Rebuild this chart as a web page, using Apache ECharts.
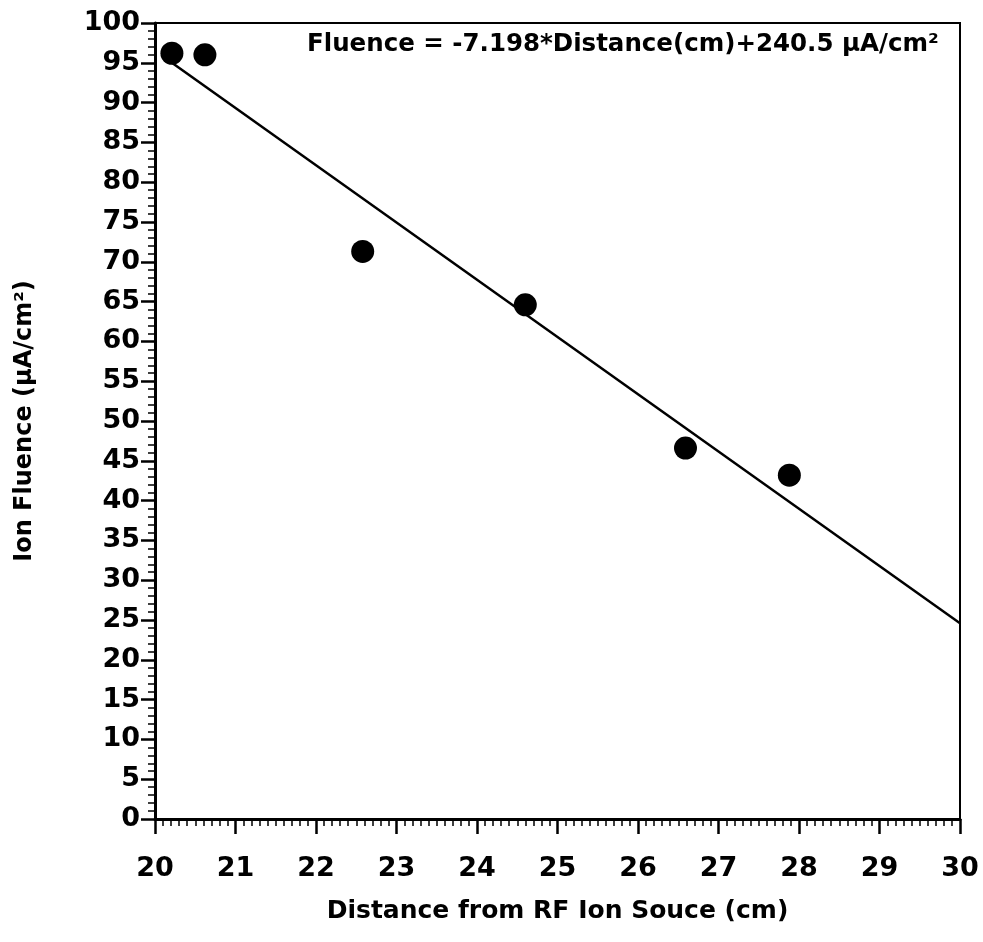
<!DOCTYPE html>
<html>
<head>
    <meta charset="utf-8">
    <title>Ion Fluence</title>
    <script src="https://cdn.jsdelivr.net/npm/echarts@6/dist/echarts.min.js"></script>
</head>
<body style="margin:0;background:#fff">
    <div id="main" style="width: 983px;height:942px;"></div>
    <script type="text/javascript">
        // measured points: distance (cm), fluence (uA/cm2)
        var distance = [20.21, 20.62, 22.58, 24.60, 26.59, 27.88];
        var fluence = [96.2, 96.0, 71.3, 64.6, 46.6, 43.2];
        // end points of the fitted line
        var fitX = [20.21, 30];
        var fitY = [95.0, 24.6];
        var fitLabel = 'Fluence = -7.198*Distance(cm)+240.5 \u00b5A/cm\u00b2';

        var pts = distance.map(function (d, i) { return [d, fluence[i]]; });
        var fit = fitX.map(function (d, i) { return [d, fitY[i]]; });

        var font = 'DejaVu Sans';
        var myChart = echarts.init(document.getElementById('main'));
        var option = {
            backgroundColor: '#fff',
            animation: false,
            grid: {
                left: 155,
                right: 23,
                top: 23,
                bottom: 123,
                show: true,
                borderColor: '#000',
                borderWidth: 2
            },
            graphic: [{
                type: 'text',
                left: 307,
                top: 32,
                style: {
                    text: fitLabel,
                    fill: '#000',
                    font: 'bold 24.5px "DejaVu Sans"'
                }
            }],
            xAxis: {
                type: 'value',
                min: 20,
                max: 30,
                interval: 1,
                name: 'Distance from RF Ion Souce (cm)',
                nameLocation: 'middle',
                nameGap: 80,
                nameTextStyle: { fontFamily: font, fontWeight: 'bold', fontSize: 25, color: '#000' },
                splitLine: { show: false },
                axisLine: { onZero: false, lineStyle: { color: '#000', width: 3 } },
                axisTick: { length: 15, lineStyle: { color: '#000', width: 2.5 } },
                minorTick: { show: true, splitNumber: 10, length: 7, lineStyle: { color: '#000', width: 1.5 } },
                axisLabel: { margin: 36, fontFamily: font, fontWeight: 'bold', fontSize: 27, color: '#000' }
            },
            yAxis: {
                type: 'value',
                min: 0,
                max: 100,
                interval: 5,
                name: 'Ion Fluence (\u00b5A/cm\u00b2)',
                nameLocation: 'middle',
                nameGap: 118,
                nameTextStyle: { fontFamily: font, fontWeight: 'bold', fontSize: 24, color: '#000' },
                splitLine: { show: false },
                axisLine: { lineStyle: { color: '#000', width: 3 } },
                axisTick: { length: 14, lineStyle: { color: '#000', width: 2.5 } },
                minorTick: { show: true, splitNumber: 5, length: 7, lineStyle: { color: '#000', width: 1.5 } },
                axisLabel: { margin: 15, fontFamily: font, fontWeight: 'bold', fontSize: 27, color: '#000' }
            },
            series: [
                {
                    name: 'fit',
                    type: 'line',
                    data: fit,
                    symbol: 'none',
                    lineStyle: { color: '#000', width: 2.5 }
                },
                {
                    name: 'data',
                    type: 'scatter',
                    data: pts,
                    symbolSize: 23,
                    itemStyle: { color: '#000', opacity: 1 }
                }
            ]
        };
        myChart.setOption(option);
    </script>
</body>
</html>
